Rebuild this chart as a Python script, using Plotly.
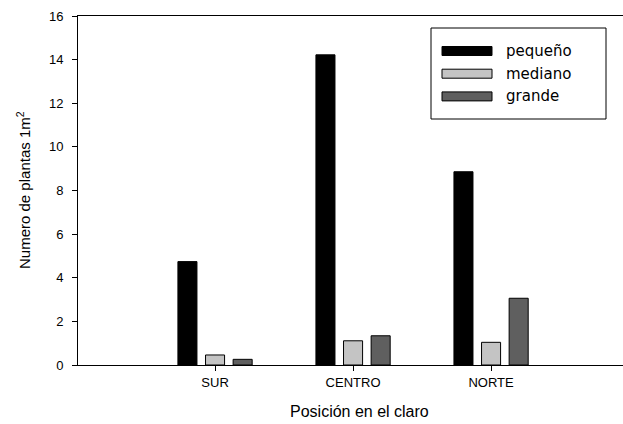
import plotly.graph_objects as go

# Plant counts per square metre by size class and position in the gap
posiciones = ["SUR", "CENTRO", "NORTE"]
pequeno = [4.74, 14.22, 8.86]
mediano = [0.46, 1.11, 1.04]
grande = [0.26, 1.34, 3.06]

series_names = ["pequeño", "mediano", "grande"]
series_values = [pequeno, mediano, grande]
series_colors = ["#000000", "#c4c4c4", "#5f5f5f"]

W, H = 623, 424
L, R, T, B = 78, 0, 16, 59
PW, PH = W - L - R, H - T - B


def px_to_paper(x, y):
    return (x - L) / PW, (H - B - y) / PH


fig = go.Figure()
for name, vals, col in zip(series_names, series_values, series_colors):
    fig.add_trace(go.Bar(
        x=posiciones, y=vals, name=name,
        marker=dict(color=col, line=dict(color="#000000", width=1)),
        showlegend=False,
    ))

# Boxed legend with wide swatches
shapes = []
annotations = []
bx0, by0 = px_to_paper(431, 119)
bx1, by1 = px_to_paper(606, 28)
shapes.append(dict(type="rect", xref="paper", yref="paper",
                   x0=bx0, y0=by0, x1=bx1, y1=by1,
                   line=dict(color="#000000", width=1), fillcolor="white"))
for i, (name, col) in enumerate(zip(series_names, series_colors)):
    cy = 51 + i * 22.7
    sx0, sy0 = px_to_paper(442, cy + 4.5)
    sx1, sy1 = px_to_paper(492, cy - 4.5)
    shapes.append(dict(type="rect", xref="paper", yref="paper",
                       x0=sx0, y0=sy0, x1=sx1, y1=sy1,
                       line=dict(color="#000000", width=1), fillcolor=col))
    tx, ty = px_to_paper(504, cy)
    annotations.append(dict(text=name, xref="paper", yref="paper", x=tx, y=ty,
                            xanchor="left", yanchor="middle", showarrow=False,
                            font=dict(family="DejaVu Sans", size=15, color="#000000")))

# Axis titles
tx, ty = px_to_paper(359, 411)
annotations.append(dict(text="Posición en el claro", xref="paper", yref="paper",
                        x=tx, y=ty, xanchor="center", yanchor="middle", showarrow=False,
                        font=dict(family="Liberation Sans, Arial", size=16, color="#000000")))
tx, ty = px_to_paper(23, 190)
annotations.append(dict(text="Numero de plantas 1m<sup>2</sup>", xref="paper", yref="paper",
                        x=tx, y=ty, xanchor="center", yanchor="middle", showarrow=False,
                        textangle=-90,
                        font=dict(family="Liberation Sans, Arial", size=15, color="#000000")))

fig.update_layout(
    width=W, height=H,
    margin=dict(l=L, r=R, t=T, b=B),
    paper_bgcolor="white", plot_bgcolor="white",
    barmode="group", bargap=0.4, bargroupgap=0.31,
    font=dict(family="Liberation Sans, Arial", color="#000000"),
    shapes=shapes, annotations=annotations,
    xaxis=dict(
        type="category", range=[-0.993, 2.956],
        showline=True, linecolor="#000000", linewidth=1, mirror=True,
        ticks="outside", ticklen=5, tickcolor="#000000",
        showgrid=False, zeroline=False,
        tickfont=dict(family="Liberation Sans, Arial", size=13, color="#000000"),
    ),
    yaxis=dict(
        range=[0, 16], dtick=2, tick0=0,
        showline=True, linecolor="#000000", linewidth=1,
        ticks="outside", ticklen=5, tickcolor="#000000",
        showgrid=False, zeroline=False,
        ticklabelstandoff=6,
        tickfont=dict(family="Liberation Sans, Arial", size=13, color="#000000"),
    ),
)

fig.write_html("out.html")
